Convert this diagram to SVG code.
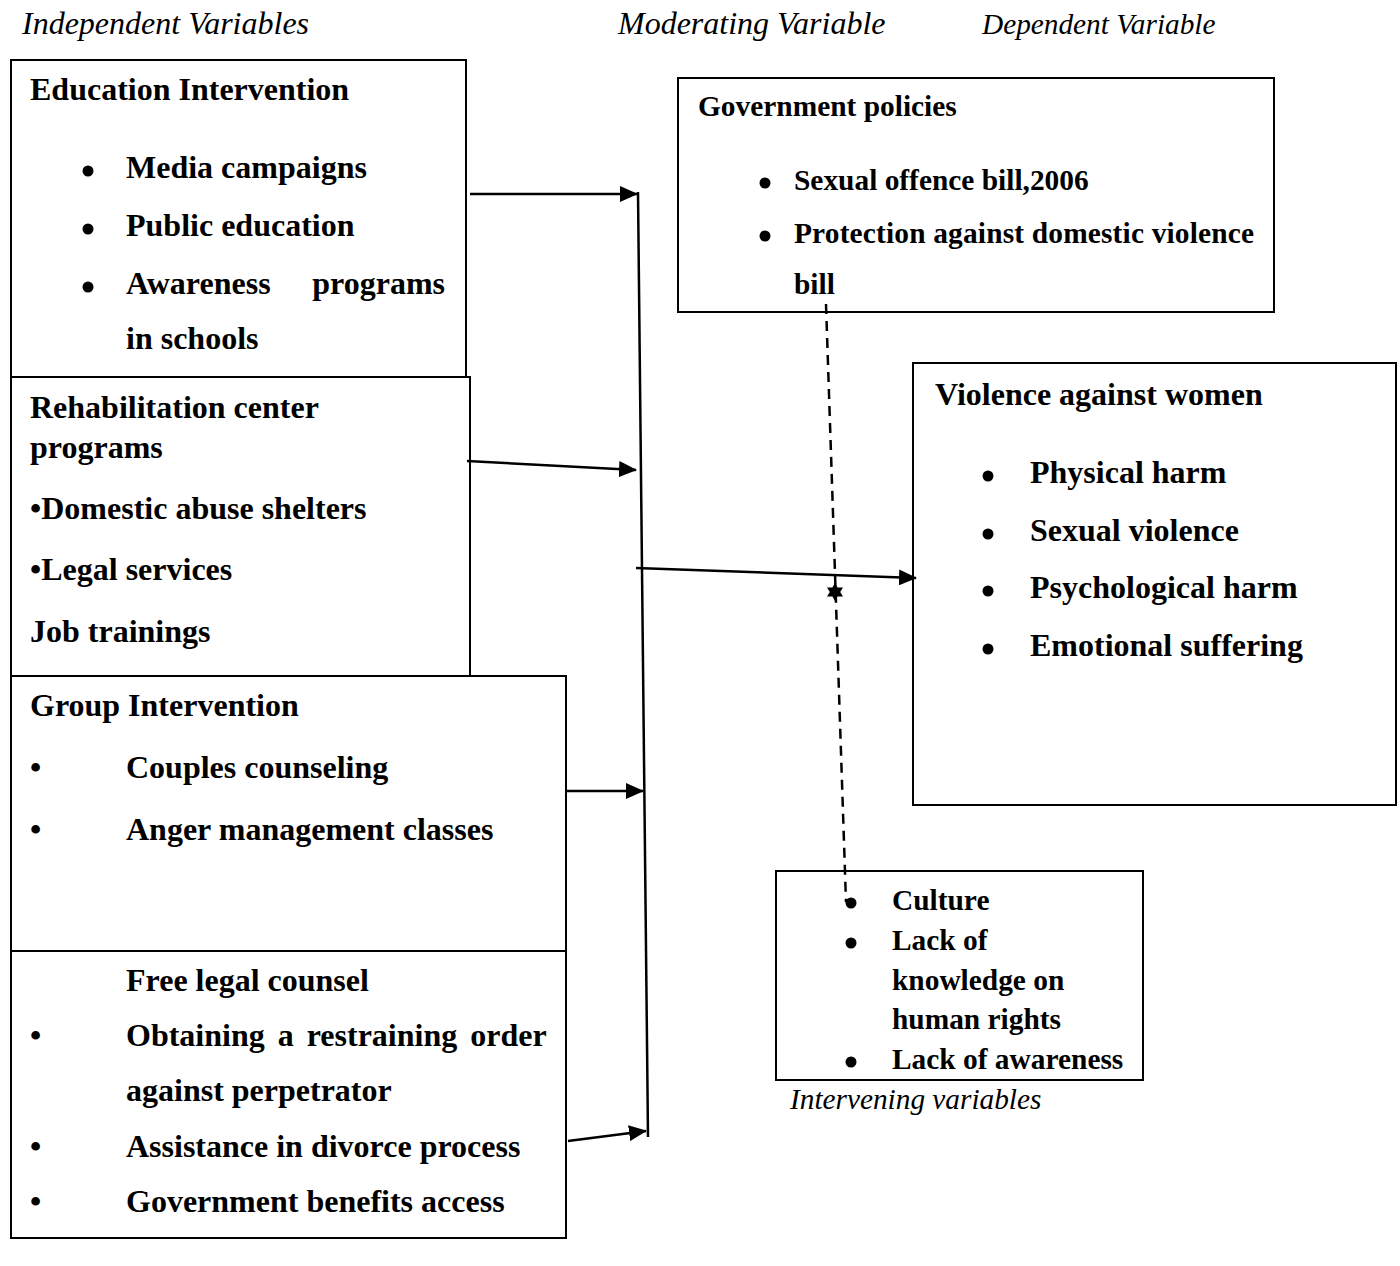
<svg xmlns="http://www.w3.org/2000/svg" width="1400" height="1266" viewBox="0 0 1400 1266">
<style>
.box{fill:none;stroke:#000;stroke-width:2}
.t{font-family:"Liberation Serif","Times New Roman",serif;font-weight:bold;font-size:32px;fill:#000}
.s{font-family:"Liberation Serif","Times New Roman",serif;font-weight:bold;font-size:29.4px;fill:#000}
.h{font-family:"Liberation Serif","Times New Roman",serif;font-style:italic;font-size:32px;fill:#000}
.hs{font-family:"Liberation Serif","Times New Roman",serif;font-style:italic;font-size:29.3px;fill:#000}
.ln{stroke:#000;stroke-width:2.5;fill:none}
.arr{stroke:#000;stroke-width:2.5;fill:none;marker-end:url(#ah)}
.dash{stroke:#000;stroke-width:2.5;fill:none;stroke-dasharray:10 7}
circle{fill:#000}
</style>
<defs>
<marker id="ah" markerUnits="userSpaceOnUse" markerWidth="18" markerHeight="16" refX="17" refY="8" orient="auto" viewBox="0 0 18 16">
<path d="M0,0 L18,8 L0,16 z" fill="#000"/>
</marker>
</defs>
<rect width="1400" height="1266" fill="#fff"/>
<g id="headers">
<text class="h" x="22" y="34">Independent Variables</text>
<text class="h" x="618" y="34">Moderating Variable</text>
<text class="hs" x="982" y="34">Dependent Variable</text>
</g>
<g id="education">
<path class="box" d="M11,377 V60 H466 V377"/>
<text class="t" x="30" y="100">Education Intervention</text>
<circle cx="88" cy="171" r="5.5"/><text class="t" x="126" y="178">Media campaigns</text>
<circle cx="88" cy="229" r="5.5"/><text class="t" x="126" y="236">Public education</text>
<circle cx="88" cy="287" r="5.5"/><text class="t" x="126" y="294">Awareness</text><text class="t" x="445" y="294" text-anchor="end">programs</text>
<text class="t" x="126" y="349">in schools</text>
</g>
<g id="rehabilitation">
<path class="box" d="M11,676 V377 H470 V676"/>
<text class="t" x="30" y="418">Rehabilitation center</text>
<text class="t" x="30" y="458">programs</text>
<text class="t" x="30" y="519">•Domestic abuse shelters</text>
<text class="t" x="30" y="580">•Legal services</text>
<text class="t" x="30" y="642">Job trainings</text>
</g>
<g id="group">
<rect class="box" x="11" y="676" width="555" height="275"/>
<text class="t" x="30" y="716">Group Intervention</text>
<text class="t" x="30" y="778">•</text><text class="t" x="126" y="778">Couples counseling</text>
<text class="t" x="30" y="840">•</text><text class="t" x="126" y="840">Anger management classes</text>
</g>
<g id="legal">
<rect class="box" x="11" y="951" width="555" height="287"/>
<text class="t" x="126" y="991">Free legal counsel</text>
<text class="t" x="30" y="1046">•</text><text class="t" x="126" y="1046" word-spacing="5">Obtaining a restraining order</text>
<text class="t" x="126" y="1101">against perpetrator</text>
<text class="t" x="30" y="1157">•</text><text class="t" x="126" y="1157">Assistance in divorce process</text>
<text class="t" x="30" y="1212">•</text><text class="t" x="126" y="1212">Government benefits access</text>
</g>
<g id="government">
<rect class="box" x="678" y="78" width="596" height="234"/>
<text class="s" x="698" y="116">Government policies</text>
<circle cx="765" cy="183" r="5.5"/><text class="s" x="794" y="190">Sexual offence bill,2006</text>
<circle cx="765" cy="236" r="5.5"/><text class="s" x="794" y="243" textLength="460">Protection against domestic violence</text>
<text class="s" x="794" y="294">bill</text>
</g>
<g id="violence">
<rect class="box" x="913" y="363" width="483" height="442"/>
<text class="t" x="935" y="405">Violence against women</text>
<circle cx="988" cy="476" r="5.5"/><text class="t" x="1030" y="483">Physical harm</text>
<circle cx="988" cy="534" r="5.5"/><text class="t" x="1030" y="541">Sexual violence</text>
<circle cx="988" cy="591" r="5.5"/><text class="t" x="1030" y="598">Psychological harm</text>
<circle cx="988" cy="649" r="5.5"/><text class="t" x="1030" y="656">Emotional suffering</text>
</g>
<g id="intervening">
<rect class="box" x="776" y="871" width="367" height="209"/>
<circle cx="851" cy="903" r="5.5"/><text class="s" x="892" y="910">Culture</text>
<circle cx="851" cy="943" r="5.5"/><text class="s" x="892" y="950">Lack of</text>
<text class="s" x="892" y="990">knowledge on</text>
<text class="s" x="892" y="1029">human rights</text>
<circle cx="851" cy="1062" r="5.5"/><text class="s" x="892" y="1069">Lack of awareness</text>
<text class="hs" x="790" y="1109">Intervening variables</text>
</g>
<g id="connectors">
<line class="ln" x1="638" y1="192" x2="648" y2="1137"/>
<line class="arr" x1="470" y1="194" x2="637" y2="194"/>
<line class="arr" x1="467" y1="461" x2="636" y2="470"/>
<line class="arr" x1="566" y1="791" x2="643" y2="791"/>
<line class="arr" x1="568" y1="1141" x2="646" y2="1131"/>
<line class="arr" x1="636" y1="568" x2="916" y2="578"/>
<line class="dash" x1="826" y1="304" x2="846" y2="902"/>
<polygon points="835,583 837.6,587.5 843,587.5 840.2,592 843,596.5 837.6,596.5 835,601 832.4,596.5 827,596.5 829.8,592 827,587.5 832.4,587.5" fill="#000"/>
</g>
</svg>
